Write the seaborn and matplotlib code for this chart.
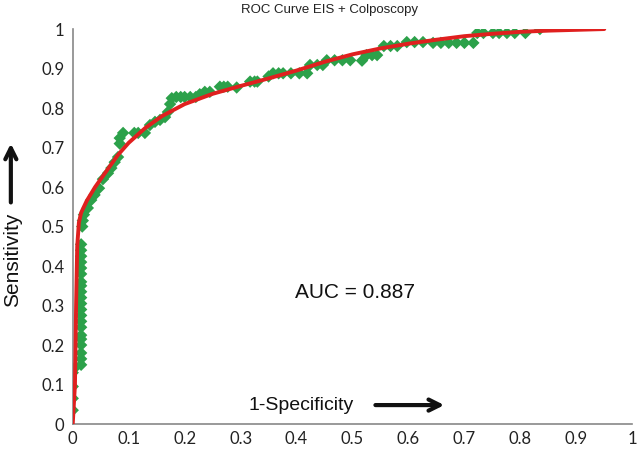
import pandas as pd
import seaborn as sns
import matplotlib.pyplot as plt

#region data
pts_x = [0.0, 0.0, 0.0, 0.0, 0.002,
         0.015, 0.015, 0.015, 0.015, 0.015, 0.015, 0.015, 0.015, 0.015, 0.015, 0.015,
         0.015, 0.015, 0.015, 0.015, 0.015, 0.015, 0.015, 0.015, 0.015, 0.015,
         0.017, 0.018, 0.02, 0.027, 0.033, 0.039, 0.047, 0.054, 0.063, 0.069, 0.075,
         0.081, 0.084, 0.084, 0.09, 0.11, 0.117, 0.129, 0.138, 0.147, 0.156, 0.165,
         0.17, 0.174, 0.177, 0.185, 0.193, 0.2, 0.21, 0.22, 0.227, 0.236, 0.245, 0.263, 0.27,
         0.277, 0.293, 0.317, 0.325, 0.33, 0.35, 0.358, 0.368, 0.376, 0.39, 0.405, 0.419,
         0.424, 0.437, 0.447, 0.454, 0.468, 0.482, 0.496, 0.517, 0.525, 0.535, 0.544,
         0.556, 0.568, 0.58, 0.597, 0.611, 0.626, 0.644, 0.658, 0.672, 0.686, 0.7,
         0.716, 0.723, 0.734, 0.751, 0.762, 0.776, 0.79, 0.809, 0.835]
pts_y = [0.035, 0.065, 0.095, 0.13, 0.14,
         0.15, 0.165, 0.18, 0.2, 0.215, 0.225, 0.245, 0.26, 0.275, 0.29, 0.305,
         0.32, 0.335, 0.35, 0.36, 0.38, 0.395, 0.41, 0.425, 0.44, 0.455,
         0.5, 0.515, 0.53, 0.547, 0.567, 0.58, 0.597, 0.62, 0.635, 0.648, 0.663,
         0.676, 0.71, 0.724, 0.737, 0.737, 0.737, 0.737, 0.757, 0.765, 0.77, 0.777,
         0.79, 0.81, 0.825, 0.828, 0.828, 0.828, 0.828, 0.828, 0.835, 0.841, 0.841, 0.854, 0.854,
         0.854, 0.852, 0.867, 0.867, 0.867, 0.88, 0.888, 0.888, 0.888, 0.888, 0.888, 0.888,
         0.909, 0.909, 0.909, 0.921, 0.921, 0.921, 0.921, 0.92, 0.934, 0.934, 0.934,
         0.957, 0.957, 0.957, 0.967, 0.967, 0.967, 0.965, 0.965, 0.965, 0.965, 0.965,
         0.965, 0.99, 0.99, 0.99, 0.99, 0.99, 0.99, 0.99, 1.0]

fit_x = [0, 0.004, 0.006, 0.008, 0.011, 0.015, 0.025, 0.04, 0.06, 0.08, 0.1, 0.13,
         0.16, 0.2, 0.25, 0.3, 0.35, 0.4, 0.45, 0.5, 0.55, 0.6, 0.65, 0.7, 0.75,
         0.8, 0.85, 0.9, 0.95]
fit_y = [0, 0.1, 0.3, 0.45, 0.51, 0.535, 0.565, 0.6, 0.64, 0.68, 0.712, 0.75,
         0.78, 0.81, 0.836, 0.856, 0.875, 0.895, 0.917, 0.936, 0.951, 0.963, 0.973,
         0.982, 0.988, 0.993, 0.996, 0.998, 1.0]

ticks = [0, 0.1, 0.2, 0.3, 0.4, 0.5, 0.6, 0.7, 0.8, 0.9, 1]
tick_labels = ['0', '0.1', '0.2', '0.3', '0.4', '0.5', '0.6', '0.7', '0.8', '0.9', '1']
#endregion

pts = pd.DataFrame({'fpr': pts_x, 'tpr': pts_y})
fit = pd.DataFrame({'fpr': fit_x, 'tpr': fit_y})

sns.set_style('white')
plt.rcParams['font.family'] = ['Liberation Sans', 'DejaVu Sans']

fig = plt.figure(figsize=(6.38, 4.54), dpi=100)
ax = fig.add_axes([0.114, 0.066, 0.877, 0.870])

sns.scatterplot(data=pts, x='fpr', y='tpr', marker='D', s=40, color='#2ca14a',
                edgecolor='none', ax=ax, zorder=2)
sns.lineplot(data=fit, x='fpr', y='tpr', color='#e0201f', linewidth=2.8,
             ax=ax, zorder=3, sort=False)

ax.set_xlim(0, 1)
ax.set_ylim(0, 1)
ax.set_xticks(ticks)
ax.set_yticks(ticks)
ax.set_xticklabels(tick_labels, fontfamily='Lato', fontsize=12, color='#222222')
ax.set_yticklabels(tick_labels, fontfamily='Lato', fontsize=12, color='#222222')
ax.tick_params(axis='x', direction='in', length=3, color='#888888', pad=5)
ax.tick_params(axis='y', direction='out', length=3, color='#888888', pad=3)
ax.set_xlabel('')
ax.set_ylabel('')
for s in ['top', 'right']:
    ax.spines[s].set_visible(False)
for s in ['left', 'bottom']:
    ax.spines[s].set_color('#888888')
    ax.spines[s].set_linewidth(1.2)

fig.text(0.517, 0.978, 'ROC Curve EIS + Colposcopy', ha='center', va='center',
         fontsize=9.5, color='#222222')
ax.text(0.505, 0.334, 'AUC = 0.887', ha='center', va='center', fontsize=15, color='#111111')
ax.text(0.408, 0.048, '1-Specificity', ha='center', va='center', fontsize=14, color='#111111')
ax.annotate('', xy=(0.669, 0.048), xytext=(0.536, 0.048),
            arrowprops=dict(arrowstyle='->', lw=3, color='#111111', mutation_scale=20))

fig.text(0.019, 0.427, 'Sensitivity', rotation=90, ha='center', va='center',
         fontsize=15, color='#111111')
ax.annotate('', xy=(0.017, 0.690), xytext=(0.017, 0.548), xycoords='figure fraction',
            textcoords='figure fraction',
            arrowprops=dict(arrowstyle='->', lw=3, color='#111111', mutation_scale=20))

fig.savefig('out.png', dpi=100)
